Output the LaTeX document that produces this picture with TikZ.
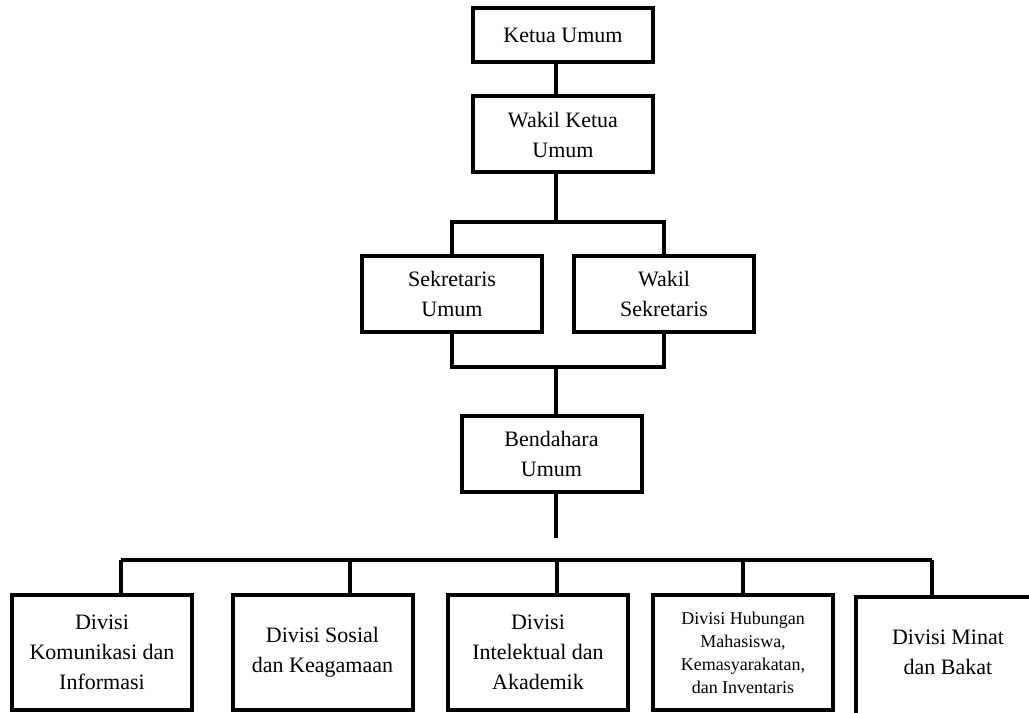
\documentclass[tikz,border=0pt]{standalone}
\usepackage{fontspec}
\setmainfont{Liberation Serif}
\usepackage{tikz}
\usetikzlibrary{calc}
\definecolor{ink}{HTML}{000000}
\definecolor{paper}{HTML}{FFFFFF}
\tikzset{
  unit/.style={
    draw=ink,
    line width=3pt,
    fill=paper,
    text=ink,
    minimum width=135pt,
    minimum height=57pt,
    inner sep=2pt,
    align=center,
    font=\fontsize{16.5}{22.5}\selectfont
  },
  division/.style={unit, minimum height=86.25pt},
  small/.style={font=\fontsize{13.5}{17.25}\selectfont},
  link/.style={draw=ink, line width=3pt, line join=miter}
}

\begin{document}
\begin{tikzpicture}[x=0.75pt, y=-0.75pt]
  \useasboundingbox[fill=paper] (0,0) rectangle (1029,713);
  \clip (0,0) rectangle (1029,713);

  % pimpinan
  \node[unit, minimum height=40.5pt] (ketua) at (563,35) {Ketua Umum};
  \node[unit] (wakil) at (563,134.5) {Wakil Ketua\\Umum};
  \node[unit] (sek) at (452,294) {Sekretaris\\Umum};
  \node[unit] (wsek) at (664,294) {Wakil\\Sekretaris};
  \node[unit] (bend) at (551.5,454) {Bendahara\\Umum};

  % divisi
  \node[division] (kom) at (102,652.5) {Divisi\\Komunikasi dan\\Informasi};
  \node[division] (sos) at (322.5,652.5) {Divisi Sosial\\dan Keagamaan};
  \node[division] (int) at (538,652.5) {Divisi\\Intelektual dan\\Akademik};
  \node[division, small] (hub) at (743,652.5) {Divisi Hubungan\\Mahasiswa,\\Kemasyarakatan,\\dan Inventaris};
  \node[division, minimum width=138pt, minimum height=92.25pt, text depth=10pt] (min) at (948,658.5) {Divisi Minat\\dan Bakat};

  \coordinate (spine) at (556,0);
  \coordinate (upbus) at (556,222);
  \coordinate (lowbus) at (556,367);
  \coordinate (stemend) at (556,538);

  \draw[link] (ketua.south -| spine) -- (wakil.north -| spine);
  \draw[link] (wakil.south -| spine) -- (upbus);
  \draw[link] (sek.north) -- (sek.north |- upbus) -- (wsek.north |- upbus) -- (wsek.north);
  \draw[link] (sek.south) -- (sek.south |- lowbus) -- (wsek.south |- lowbus) -- (wsek.south);
  \draw[link] (lowbus) -- (bend.north -| lowbus);
  \draw[link] (bend.south -| stemend) -- (stemend);

  \foreach \n/\x in {kom/121,sos/350,int/557,hub/743,min/932}{
    \coordinate (t\n) at (\x,560);
    \draw[link] (t\n) -- (\n.north -| t\n);
  }
  \draw[link] (tkom) -- (tmin);
\end{tikzpicture}
\end{document}
